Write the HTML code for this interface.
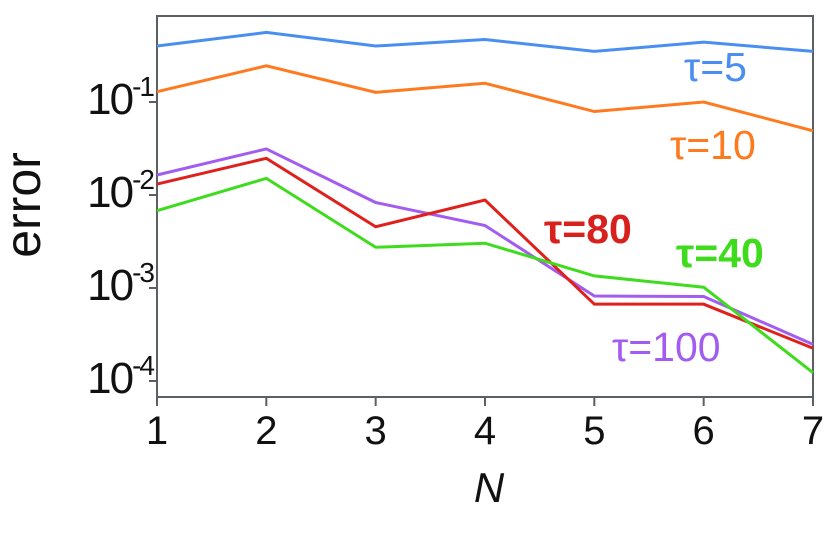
<!DOCTYPE html>
<html><head><meta charset="utf-8"><style>
html,body{margin:0;padding:0;background:#fff}
svg{display:block;font-family:"Liberation Sans",sans-serif}
</style></head><body>
<svg id="chart" width="830" height="551" viewBox="0 0 830 551">
<g id="plot"></g>
</svg>
<script>
const categories = [1,2,3,4,5,6,7];
const seriesNames = ["τ=5","τ=10","τ=100","τ=80","τ=40"];
const tau5 = [0.40,0.56,0.40,0.47,0.35,0.44,0.35];
const tau10 = [0.129,0.245,0.127,0.159,0.079,0.100,0.049];
const tau100 = [0.0164,0.0313,0.0083,0.0047,0.00082,0.00081,0.000248];
const tau80 = [0.0131,0.0248,0.00456,0.00883,0.00067,0.00067,0.000225];
const tau40 = [0.00678,0.0151,0.00274,0.00303,0.00135,0.00102,0.000123];
const yTickExps = [-1,-2,-3,-4];

const NS="http://www.w3.org/2000/svg";
const L=157,R=813,T=16,B=397;
const xs=n=>L+(n-1)*(R-L)/6;
const ys=v=>102+(-1-Math.log10(v))*93;
const g=document.getElementById('plot');
function mk(tag,attrs,parent){const e=document.createElementNS(NS,tag);for(const k in attrs)e.setAttribute(k,attrs[k]);(parent||g).appendChild(e);return e;}

const frame=mk('rect',{x:L,y:T,width:R-L,height:B-T,fill:'none',stroke:'#5a6064','stroke-width':2});



categories.forEach(c=>{
  const t=mk('line',{x1:xs(c),x2:xs(c),y1:B,y2:B+9,stroke:'#5a6064','stroke-width':2});
  
  
  const tx=mk('text',{x:xs(c),y:444,'font-size':40,'text-anchor':'middle',fill:'#111'});
  tx.textContent=c;
  
  
});
yTickExps.forEach(e=>{
  const y=ys(Math.pow(10,e));
  const t=mk('line',{x1:L-8,x2:L,y1:y,y2:y,stroke:'#5a6064','stroke-width':2});
  
  
  const tx=mk('text',{x:153,y:y+12,'font-size':44,'text-anchor':'end',fill:'#111','letter-spacing':'-2'});
  
  
  const a=mk('tspan',{},tx);a.textContent='10';
  const b=mk('tspan',{'font-size':28,dy:-18},tx);b.textContent=String(e);
});

const series=[[tau5,'#4a8ff0'],[tau10,'#ff7a1e'],[tau100,'#a35cf0'],[tau80,'#e0201c'],[tau40,'#3fdc1e']];
series.forEach((s,i)=>{
  const p=mk('polyline',{points:s[0].map((v,j)=>xs(categories[j])+','+ys(v)).join(' '),fill:'none',stroke:s[1],'stroke-width':3,'stroke-linejoin':'miter'});
  
  
});

const labels=[["τ=5",684,81,'#4a8ff0','normal'],["τ=10",670,159,'#ff7a1e','normal'],["τ=80",544,243,'#d8201c','bold'],["τ=40",676,267,'#3fdc1e','bold'],["τ=100",612,361,'#a35cf0','normal']];
labels.forEach(l=>{
  const t=mk('text',{x:l[1],y:l[2],'font-size':41,fill:l[3],'font-weight':l[4]});
  t.textContent=l[0];
  
  
});

const xt=mk('text',{x:489,y:502,'font-size':42,'font-style':'italic','text-anchor':'middle',fill:'#111'});
xt.textContent='N';


const yt=mk('text',{x:0,y:0,'font-size':50,'text-anchor':'middle',fill:'#111',transform:'translate(40,205) rotate(-90)'});
yt.textContent='error';


</script>
</body></html>
